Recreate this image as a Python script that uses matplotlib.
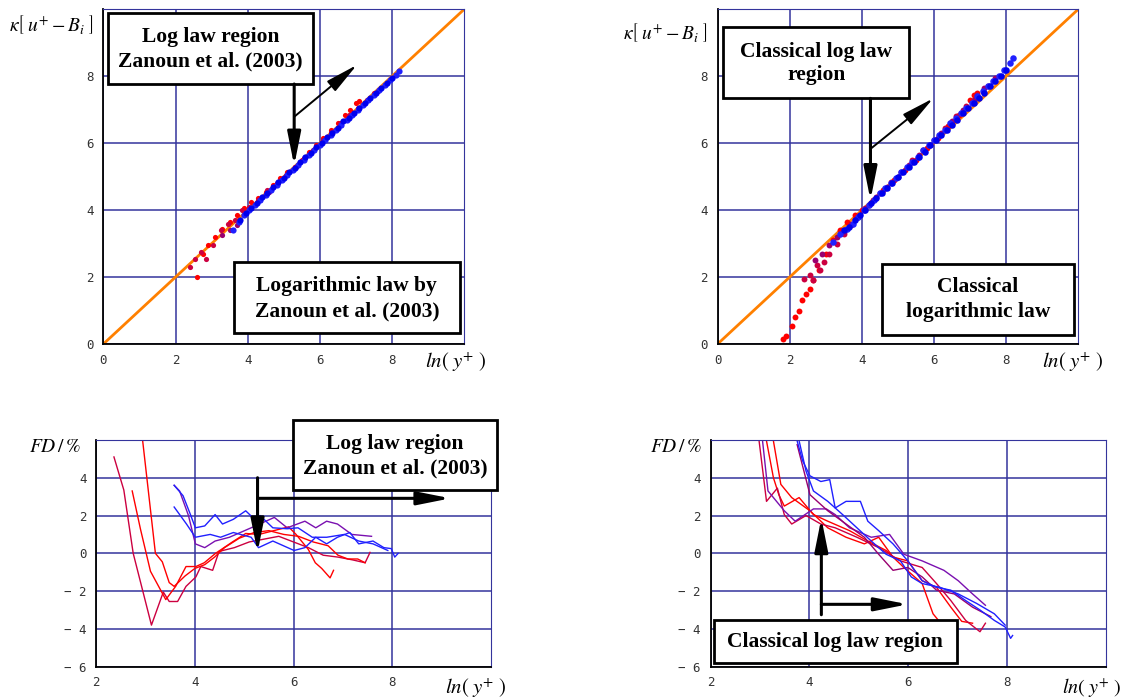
import matplotlib
matplotlib.use('Agg')
import matplotlib.pyplot as plt
from matplotlib.patches import Rectangle
from matplotlib import rcParams

rcParams.update({
    'mathtext.fontset': 'stix',
    'axes.unicode_minus': False,
})

# colours of the profiles (red -> blue)
c_red = '#ff0000'
c_crim = '#cc0040'
c_purp = '#990070'
c_viol = '#7a10b0'
c_blue = '#2020ff'
c_blue2 = '#0000ee'
c_law = '#ff8000'
grid_c = '#34349c'

# ---------- log law line (both top panels) ----------
law_x = [0, 10]
law_y = [0, 10]

# ---------- top left: Zanoun et al. (2003) scaling ----------
tl_red_x = [2.6, 2.75, 2.9, 3.1, 3.3, 3.5, 3.7, 3.9, 4.1, 4.3, 4.5, 4.7, 4.9, 5.1, 5.3,
            5.5, 5.7, 5.9, 6.1, 6.3, 6.5, 6.7, 6.85, 7.0, 7.1]
tl_red_y = [2.0, 2.7, 2.95, 3.2, 3.45, 3.65, 3.85, 4.05, 4.25, 4.35, 4.55, 4.75, 4.95, 5.15, 5.3,
            5.5, 5.75, 5.95, 6.15, 6.4, 6.6, 6.85, 7.0, 7.2, 7.25]
tl_crim_x = [2.4, 2.55, 2.7, 2.85, 3.05, 3.25, 3.45, 3.65, 3.85, 4.05, 4.3, 4.55, 4.8, 5.05,
             5.3, 5.55, 5.8, 6.05, 6.3, 6.55, 6.8, 7.05, 7.3, 7.5]
tl_crim_y = [2.3, 2.55, 2.75, 2.55, 2.95, 3.4, 3.6, 3.7, 4.0, 4.1, 4.3, 4.6, 4.8, 5.05,
             5.3, 5.55, 5.8, 6.05, 6.35, 6.6, 6.85, 7.05, 7.3, 7.5]
tl_purp_x = [3.3, 3.5, 3.7, 3.9, 4.1, 4.35, 4.6, 4.85, 5.1, 5.35, 5.6, 5.85, 6.1, 6.35,
             6.6, 6.85, 7.1, 7.35, 7.6, 7.8]
tl_purp_y = [3.25, 3.4, 3.55, 3.85, 4.05, 4.3, 4.55, 4.8, 5.05, 5.3, 5.55, 5.8, 6.1, 6.35,
             6.55, 6.8, 7.05, 7.3, 7.55, 7.75]
tl_blue_x = [3.6, 3.75, 3.9, 4.05, 4.2, 4.35, 4.5, 4.65, 4.8, 4.95, 5.1, 5.25, 5.4, 5.55,
             5.7, 5.85, 6.0, 6.15, 6.3, 6.45, 6.6, 6.75, 6.9, 7.05, 7.2, 7.35, 7.5, 7.65,
             7.8, 7.95, 8.1, 8.2]
tl_blue_y = [3.4, 3.65, 3.85, 4.0, 4.15, 4.3, 4.45, 4.6, 4.75, 4.9, 5.05, 5.2, 5.35, 5.5,
             5.65, 5.8, 5.95, 6.1, 6.25, 6.4, 6.55, 6.7, 6.85, 7.0, 7.15, 7.3, 7.45, 7.6,
             7.75, 7.9, 8.05, 8.15]
tl_blue2_x = [3.8, 3.95, 4.1, 4.25, 4.4, 4.55, 4.7, 4.85, 5.0, 5.15, 5.3, 5.45, 5.6, 5.75,
              5.9, 6.05, 6.2, 6.35, 6.5, 6.65, 6.8, 6.95, 7.1, 7.25, 7.4, 7.55, 7.7, 7.85, 8.0]
tl_blue2_y = [3.7, 3.9, 4.05, 4.2, 4.4, 4.5, 4.7, 4.85, 4.95, 5.15, 5.25, 5.45, 5.6, 5.7,
              5.9, 6.0, 6.2, 6.3, 6.45, 6.65, 6.75, 6.9, 7.05, 7.2, 7.35, 7.5, 7.65, 7.8, 7.95]

# ---------- top right: classical log law ----------
tr_red_x = [1.8, 1.9, 2.05, 2.15, 2.25, 2.35, 2.45, 2.55, 2.65, 2.8, 3.0, 3.2, 3.4, 3.6, 3.8,
            4.0, 4.3, 4.6, 4.9, 5.2, 5.5, 5.8, 6.1, 6.4, 6.7, 7.0, 7.1, 7.2]
tr_red_y = [0.15, 0.25, 0.55, 0.8, 1.0, 1.3, 1.5, 1.65, 1.9, 2.2, 2.7, 3.1, 3.4, 3.65, 3.85,
            4.0, 4.3, 4.6, 4.9, 5.2, 5.5, 5.85, 6.15, 6.5, 6.85, 7.3, 7.45, 7.5]
tr_crim_x = [2.4, 2.55, 2.65, 2.75, 2.85, 2.95, 3.1, 3.3, 3.5, 3.7, 3.9, 4.2, 4.5, 4.8, 5.1,
             5.4, 5.7, 6.0, 6.3, 6.6, 6.9, 7.2, 7.5]
tr_crim_y = [1.95, 2.05, 1.9, 2.35, 2.2, 2.45, 2.7, 3.0, 3.3, 3.55, 3.8, 4.15, 4.5, 4.85, 5.15,
             5.5, 5.8, 6.1, 6.45, 6.8, 7.1, 7.45, 7.7]
tr_purp_x = [2.7, 2.9, 3.1, 3.3, 3.5, 3.7, 3.9, 4.1, 4.4, 4.7, 5.0, 5.3, 5.6, 5.9, 6.2, 6.5,
             6.8, 7.1, 7.4, 7.7]
tr_purp_y = [2.5, 2.7, 2.95, 3.2, 3.35, 3.6, 3.8, 4.05, 4.4, 4.7, 5.0, 5.35, 5.65, 5.95, 6.3,
             6.65, 7.0, 7.3, 7.65, 7.95]
tr_blue_x = [3.2, 3.4, 3.6, 3.75, 3.9, 4.05, 4.2, 4.35, 4.5, 4.65, 4.8, 4.95, 5.1, 5.25, 5.4,
             5.55, 5.7, 5.85, 6.0, 6.15, 6.3, 6.45, 6.6, 6.75, 6.9, 7.05, 7.2, 7.35, 7.5,
             7.65, 7.8, 7.95, 8.1, 8.2]
tr_blue_y = [3.05, 3.3, 3.45, 3.6, 3.8, 4.0, 4.15, 4.3, 4.5, 4.65, 4.8, 4.95, 5.15, 5.3, 5.45,
             5.6, 5.8, 5.95, 6.1, 6.25, 6.4, 6.6, 6.75, 6.9, 7.05, 7.2, 7.4, 7.55, 7.7,
             7.85, 8.0, 8.2, 8.4, 8.55]
tr_blue2_x = [3.5, 3.65, 3.8, 3.95, 4.1, 4.25, 4.4, 4.55, 4.7, 4.85, 5.0, 5.15, 5.3, 5.45, 5.6,
              5.75, 5.9, 6.05, 6.2, 6.35, 6.5, 6.65, 6.8, 6.95, 7.1, 7.25, 7.4, 7.55, 7.7,
              7.85, 8.0]
tr_blue2_y = [3.4, 3.5, 3.7, 3.85, 4.0, 4.2, 4.35, 4.5, 4.65, 4.8, 5.0, 5.15, 5.3, 5.45, 5.6,
              5.75, 5.95, 6.1, 6.25, 6.4, 6.55, 6.7, 6.9, 7.05, 7.2, 7.35, 7.5, 7.7, 7.85,
              8.0, 8.2]

# ---------- bottom left: FD, Zanoun et al. scaling ----------
bl_a_x = [2.36, 2.56, 2.75, 3.12, 3.36, 3.48, 3.65, 3.82, 4.02, 4.12, 4.36, 4.49, 4.8, 5.1,
          5.4, 5.7, 6.0, 6.3, 6.6, 6.9, 7.2, 7.45, 7.55]
bl_a_y = [5.1, 3.35, 0.0, -3.8, -2.05, -2.55, -2.55, -1.75, -1.25, -0.7, -0.9, 0.1, 0.3, 0.6,
          0.75, 0.9, 0.6, 0.3, -0.1, -0.2, -0.35, -0.5, 0.05]
bl_b_x = [2.73, 2.9, 3.1, 3.41, 3.61, 3.82, 4.02, 4.19, 4.42, 4.76, 5.03, 5.3, 5.6, 5.9,
          6.05, 6.3, 6.44, 6.57, 6.74, 6.81]
bl_b_y = [3.3, 1.25, -0.95, -2.45, -1.75, -0.7, -0.7, -0.5, 0.0, 0.6, 1.05, 1.0, 1.2, 1.4,
          1.0, 0.2, -0.5, -0.8, -1.3, -0.9]
bl_c_x = [2.94, 3.07, 3.2, 3.34, 3.48, 3.58, 3.8, 4.0, 4.2, 4.4, 4.6, 4.9, 5.2, 5.5, 5.8,
          6.1, 6.4, 6.7, 6.9, 7.1, 7.3, 7.45]
bl_c_y = [6.0, 3.0, 0.0, -0.45, -1.55, -1.75, -1.2, -0.8, -0.6, -0.2, 0.3, 0.8, 1.1, 1.2,
          1.0, 0.9, 0.6, 0.4, -0.1, -0.3, -0.3, -0.5]
bl_d_x = [3.58, 3.69, 3.87, 4.01, 4.2, 4.41, 4.7, 5.14, 5.61, 5.87, 6.23, 6.45, 6.67, 6.89,
          7.18, 7.58]
bl_d_y = [3.6, 3.3, 2.0, 0.5, 0.3, 0.65, 0.85, 1.35, 1.9, 1.35, 1.7, 1.35, 1.7, 1.55, 1.0, 0.9]
bl_e_x = [3.58, 3.83, 4.01, 4.31, 4.52, 4.78, 5.14, 5.29, 5.58, 6.01, 6.23, 6.45, 6.67, 6.89,
          7.14, 7.32, 7.61, 7.83, 7.98, 8.05, 8.12]
bl_e_y = [2.45, 1.55, 0.85, 1.0, 0.85, 1.1, 0.85, 0.3, 0.65, 0.15, 0.3, 0.85, 0.5, 0.85,
          1.1, 0.5, 0.65, 0.3, 0.25, -0.2, 0.0]
bl_f_x = [3.58, 3.76, 3.91, 4.01, 4.2, 4.41, 4.56, 4.78, 5.03, 5.21, 5.32, 5.58, 5.87, 6.09,
          6.38, 6.67, 7.03, 7.32, 7.61, 7.91]
bl_f_y = [3.6, 3.05, 2.05, 1.35, 1.45, 2.05, 1.55, 1.8, 2.25, 1.8, 2.0, 1.35, 1.3, 1.35,
          0.85, 0.85, 1.0, 0.65, 0.5, 0.15]

# ---------- bottom right: FD, classical log law ----------
br_g_x = [3.13, 3.27, 3.38, 3.49, 3.79, 4.08, 4.37, 4.81, 5.18, 5.55, 5.91, 6.28, 6.5, 6.61]
br_g_y = [5.95, 4.0, 3.1, 2.5, 2.95, 2.05, 1.7, 1.2, 0.65, 0.15, -0.75, -1.6, -3.2, -3.55]
br_h_x = [3.27, 3.42, 3.64, 4.01, 4.37, 4.74, 5.11, 5.4, 5.69, 5.99, 6.28, 6.57, 6.86, 7.08, 7.3]
br_h_y = [5.95, 3.65, 2.95, 2.25, 1.35, 0.85, 0.5, 0.85, -0.2, -0.4, -1.45, -1.8, -2.85,
          -3.6, -3.7]
br_i_x = [2.98, 3.13, 3.35, 3.49, 3.64, 3.93, 4.23, 4.52, 4.96, 5.4, 5.84, 6.28, 6.57, 6.86,
          7.16, 7.45, 7.56]
br_i_y = [5.95, 2.75, 3.45, 2.05, 1.55, 2.0, 1.55, 1.35, 0.85, 0.3, -0.4, -0.75, -1.6, -2.5,
          -3.55, -4.15, -3.7]
br_j_x = [3.05, 3.16, 3.49, 3.71, 4.08, 4.34, 4.52, 4.81, 5.25, 5.62, 5.91, 6.28, 6.72, 7.01,
          7.3, 7.56]
br_j_y = [5.95, 3.3, 2.25, 1.7, 2.35, 2.35, 2.05, 1.35, 0.85, 1.0, -0.05, -0.4, -0.9, -1.45,
          -2.15, -2.75]
br_k_x = [3.75, 3.86, 4.01, 4.23, 4.41, 4.52, 4.74, 5.03, 5.18, 5.4, 5.69, 5.99, 6.28, 6.57,
          6.86, 7.16, 7.45, 7.74, 7.96, 8.07, 8.11]
br_k_y = [5.95, 4.9, 4.1, 3.8, 3.9, 2.4, 2.75, 2.75, 1.7, 1.2, 0.5, -0.4, -1.45, -1.8, -1.95,
          -2.5, -3.0, -3.55, -3.9, -4.5, -4.35]
br_l_x = [3.79, 3.93, 4.08, 4.37, 4.67, 4.96, 5.25, 5.55, 5.84, 6.06, 6.28, 6.64, 7.01, 7.38,
          7.74, 7.96]
br_l_y = [5.95, 4.35, 3.3, 2.75, 2.05, 1.35, 0.65, -0.05, -0.4, -1.25, -1.6, -1.8, -2.15,
          -2.65, -3.2, -3.8]
br_m_x = [3.75, 4.01, 4.37, 4.74, 5.11, 5.4, 5.69, 5.99, 6.28, 6.57, 6.93, 7.3, 7.67]
br_m_y = [5.75, 3.1, 2.25, 1.55, 0.85, -0.05, -0.9, -0.75, -1.25, -1.95, -2.15, -2.85, -3.35]

top_ticks = [0, 2, 4, 6, 8]
bot_xticks = [2, 4, 6, 8]
bot_yticks = [-6, -4, -2, 0, 2, 4]
bot_ylabels = ['\u2212 6', '\u2212 4', '\u2212 2', '0', '2', '4']

fig = plt.figure(figsize=(11.25, 7), dpi=100)
ax_tl = fig.add_axes([0.0919, 0.5086, 0.3206, 0.478])
ax_tr = fig.add_axes([0.6379, 0.5086, 0.3204, 0.478])
ax_bl = fig.add_axes([0.0855, 0.0476, 0.3509, 0.3239])
ax_br = fig.add_axes([0.6317, 0.0476, 0.3514, 0.3239])


def style(ax, xlim, ylim, xt, yt, ylabels=None):
    ax.set_xlim(*xlim)
    ax.set_ylim(*ylim)
    ax.set_xticks(xt)
    ax.set_yticks(yt)
    if ylabels is not None:
        ax.set_yticklabels(ylabels)
    ax.grid(True, color=grid_c, lw=1.1)
    ax.set_axisbelow(True)
    ax.tick_params(length=0, pad=7, labelsize=9, labelcolor='#333333')
    for lab in ax.get_xticklabels() + ax.get_yticklabels():
        lab.set_family('DejaVu Sans Mono')
    ax.spines['left'].set_color('black')
    ax.spines['bottom'].set_color('black')
    ax.spines['left'].set_linewidth(1.3)
    ax.spines['bottom'].set_linewidth(1.3)
    ax.spines['top'].set_color(grid_c)
    ax.spines['right'].set_color(grid_c)


def box(ax, x0, y0, x1, y1, lines):
    rect = Rectangle((x0, y0), x1 - x0, y1 - y0, transform=ax.transData, clip_on=False,
                     facecolor='white', edgecolor='black', lw=2, zorder=10)
    ax.add_patch(rect)
    for txt, ty in lines:
        ax.text((x0 + x1) / 2, ty, txt, ha='center', va='center', fontsize=15.5,
                family='Liberation Serif', weight='bold', zorder=11, clip_on=False)


def arrow(ax, start, tip, lw):
    ax.annotate('', xy=tip, xytext=start, annotation_clip=False, zorder=12,
                arrowprops=dict(arrowstyle='-|>,head_length=1.0,head_width=0.2',
                                color='black', lw=lw, mutation_scale=20,
                                shrinkA=0, shrinkB=0))


ms = 14
# top left
style(ax_tl, (0, 10), (0, 10), top_ticks, top_ticks)
ax_tl.plot(law_x, law_y, color=c_law, lw=2, zorder=2)
ax_tl.scatter(tl_red_x, tl_red_y, s=ms, color=c_red, lw=0, zorder=3)
ax_tl.scatter(tl_crim_x, tl_crim_y, s=ms, color=c_crim, lw=0, zorder=3)
ax_tl.scatter(tl_purp_x, tl_purp_y, s=ms, color=c_purp, lw=0, zorder=3)
ax_tl.scatter(tl_blue_x, tl_blue_y, s=ms + 6, color=c_blue, lw=0, zorder=4)
ax_tl.scatter(tl_blue2_x, tl_blue2_y, s=ms + 6, color=c_blue2, lw=0, zorder=4)
box(ax_tl, 0.12, 7.77, 5.81, 9.9, [('Log law region', 9.16), ('Zanoun et al. (2003)', 8.44)])
box(ax_tl, 3.62, 0.32, 9.88, 2.46, [('Logarithmic law by', 1.73), ('Zanoun et al. (2003)', 0.98)])
arrow(ax_tl, (5.29, 7.77), (5.29, 5.33), 2.2)
arrow(ax_tl, (5.29, 6.79), (7.03, 8.34), 1.4)

# top right
style(ax_tr, (0, 10), (0, 10), top_ticks, top_ticks)
ax_tr.plot(law_x, law_y, color=c_law, lw=2, zorder=2)
ax_tr.scatter(tr_red_x, tr_red_y, s=ms + 4, color=c_red, lw=0, zorder=3)
ax_tr.scatter(tr_crim_x, tr_crim_y, s=ms + 4, color=c_crim, lw=0, zorder=3)
ax_tr.scatter(tr_purp_x, tr_purp_y, s=ms + 4, color=c_purp, lw=0, zorder=3)
ax_tr.scatter(tr_blue_x, tr_blue_y, s=ms + 8, color=c_blue, lw=0, zorder=4)
ax_tr.scatter(tr_blue2_x, tr_blue2_y, s=ms + 8, color=c_blue2, lw=0, zorder=4)
box(ax_tr, 0.16, 7.34, 5.31, 9.48, [('Classical log law', 8.74), ('region', 8.04)])
box(ax_tr, 4.55, 0.27, 9.9, 2.39, [('Classical', 1.69), ('logarithmic law', 0.97)])
arrow(ax_tr, (4.24, 7.34), (4.24, 4.3), 2.2)
arrow(ax_tr, (4.24, 5.83), (5.98, 7.34), 1.4)

# bottom left
style(ax_bl, (2, 10), (-6, 6), bot_xticks, bot_yticks, bot_ylabels)
ax_bl.plot(bl_a_x, bl_a_y, color=c_crim, lw=1)
ax_bl.plot(bl_b_x, bl_b_y, color=c_red, lw=1)
ax_bl.plot(bl_c_x, bl_c_y, color=c_red, lw=1)
ax_bl.plot(bl_d_x, bl_d_y, color=c_viol, lw=1)
ax_bl.plot(bl_e_x, bl_e_y, color=c_blue, lw=1)
ax_bl.plot(bl_f_x, bl_f_y, color=c_blue, lw=1)
box(ax_bl, 5.98, 3.35, 10.13, 7.07, [('Log law region', 5.79), ('Zanoun et al. (2003)', 4.49)])
arrow(ax_bl, (5.27, 4.0), (5.27, 0.05), 2.2)
arrow(ax_bl, (5.27, 2.91), (9.18, 2.91), 2.2)

# bottom right
style(ax_br, (2, 10), (-6, 6), bot_xticks, bot_yticks, bot_ylabels)
ax_br.plot(br_g_x, br_g_y, color=c_red, lw=1)
ax_br.plot(br_h_x, br_h_y, color=c_red, lw=1)
ax_br.plot(br_i_x, br_i_y, color=c_crim, lw=1)
ax_br.plot(br_j_x, br_j_y, color=c_viol, lw=1)
ax_br.plot(br_m_x, br_m_y, color=c_purp, lw=1)
ax_br.plot(br_k_x, br_k_y, color=c_blue, lw=1)
ax_br.plot(br_l_x, br_l_y, color=c_blue, lw=1)
box(ax_br, 2.06, -5.79, 6.99, -3.54, [('Classical log law region', -4.72)])
arrow(ax_br, (4.24, -3.25), (4.24, 1.86), 2.2)
arrow(ax_br, (4.24, -2.7), (5.99, -2.7), 2.2)

# axis labels
ylab_top = r'$\kappa\left[\;u^{+}-B_{i}\;\right]$'
xlab = r'$ln\left(\;y^{+}\;\right)$'
fig.text(9 / 1125, 1 - 25 / 700, ylab_top, fontsize=14, ha='left', va='center')
fig.text(623 / 1125, 1 - 33 / 700, ylab_top, fontsize=14, ha='left', va='center')
fig.text(425 / 1125, 1 - 362 / 700, xlab, fontsize=15, ha='left', va='center')
fig.text(1042 / 1125, 1 - 362 / 700, xlab, fontsize=15, ha='left', va='center')
fig.text(29 / 1125, 1 - 447 / 700, r'$FD\,/\,\%$', fontsize=14, ha='left', va='center')
fig.text(650 / 1125, 1 - 447 / 700, r'$FD\,/\,\%$', fontsize=14, ha='left', va='center')
fig.text(445 / 1125, 1 - 688 / 700, xlab, fontsize=15, ha='left', va='center')
fig.text(1121 / 1125, 1 - 688 / 700, xlab, fontsize=14.5, ha='right', va='center')

fig.savefig('out.png', dpi=100)
